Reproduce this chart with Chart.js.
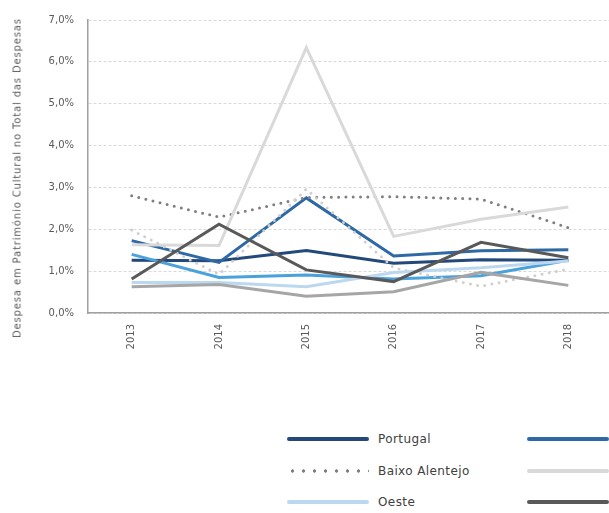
<!DOCTYPE html>
<html lang="pt">
<head>
<meta charset="utf-8">
<script src="https://cdn.jsdelivr.net/npm/chart.js@4/dist/chart.umd.min.js"></script>
<style>
  html, body { margin: 0; padding: 0; background: #fff; }
  body { width: 609px; height: 513px; overflow: hidden; position: relative; font-family: "DejaVu Sans", Verdana, sans-serif; }
  #wrap { position: absolute; left: 0; top: 0; width: 612px; height: 360px; }
  #ytitle {
    position: absolute; left: 17px; top: 178px;
    transform: translate(-50%, -50%) rotate(-90deg);
    white-space: nowrap; font-size: 10px; font-weight: 400; letter-spacing: 0.85px; color: #595959;
  }
  #legend { position: absolute; left: 287px; top: 425px; width: 760px; }
  .item { position: absolute; height: 16px; display: flex; align-items: center; white-space: nowrap; }
  .swatch { width: 82px; height: 4px; border-radius: 2px; margin-right: 9px; }
  .label { font-size: 12px; color: #404040; letter-spacing: 0.4px; }
</style>
</head>
<body>
<div id="wrap"><canvas id="c" width="612" height="360"></canvas></div>
<div id="ytitle">Despesa em Património Cultural no Total das Despesas</div>
<div id="legend"></div>
<script>
// Categories (years) and y-axis ticks
const years = ['2013', '2014', '2015', '2016', '2017', '2018'];
const yTicks = [0, 1, 2, 3, 4, 5, 6, 7];

// Share of cultural heritage expenditure in total expenditure (%)
const portugal        = [1.26, 1.25, 1.49, 1.19, 1.27, 1.26];
const alentejo        = [1.73, 1.21, 2.75, 1.36, 1.49, 1.51];
const alentejoLitoral = [1.40, 0.85, 0.91, 0.81, 0.89, 1.26];
const baixoAlentejo   = [2.80, 2.29, 2.76, 2.78, 2.72, 2.04];
const leziriaTejo     = [1.63, 1.61, 6.34, 1.83, 2.24, 2.53];
const altoAlentejo    = [1.98, 0.92, 2.96, 1.08, 0.64, 1.05];
const oeste           = [0.73, 0.73, 0.63, 0.97, 1.08, 1.24];
const medioTejo       = [0.81, 2.12, 1.03, 0.75, 1.69, 1.32];
const alentejoCentral = [0.63, 0.68, 0.40, 0.51, 0.97, 0.66];

const seriesNames = ['Portugal', 'Alentejo', 'Alentejo Litoral', 'Baixo Alentejo', 'Lezíria do Tejo',
                     'Alto Alentejo', 'Oeste', 'Médio Tejo', 'Alentejo Central'];
const seriesValues = [portugal, alentejo, alentejoLitoral, baixoAlentejo, leziriaTejo,
                      altoAlentejo, oeste, medioTejo, alentejoCentral];
const seriesColors = ['#22497a', '#2f69a5', '#4aa2dd', '#7f7f7f', '#d9d9d9',
                      '#cfcfcf', '#bcd8f0', '#595959', '#a6a6a6'];
const seriesDotted = [false, false, false, true, false, true, false, false, false];

const n = seriesNames.length;
const datasets = seriesNames.map((name, i) => ({
  label: name,
  data: seriesValues[i],
  borderColor: seriesColors[i],
  backgroundColor: seriesColors[i],
  borderWidth: 3,
  borderDash: seriesDotted[i] ? [0, 7.3] : [],
  borderCapStyle: seriesDotted[i] ? 'round' : 'butt',
  borderJoinStyle: 'miter',
  pointRadius: 0,
  pointHoverRadius: 0,
  tension: 0,
  fill: false,
  order: n - i          // later series are painted over earlier ones
}));

const tickFont = { family: '"DejaVu Sans", Verdana, sans-serif', size: 10 };

const chart = new Chart(document.getElementById('c'), {
  type: 'line',
  data: { labels: years, datasets },
  options: {
    responsive: false,
    devicePixelRatio: 1,
    animation: false,
    layout: { padding: { top: 14, left: 0, right: 0, bottom: 0 } },
    plugins: { legend: { display: false }, tooltip: { enabled: false } },
    scales: {
      x: {
        type: 'category',
        offset: true,
        grid: { display: false, drawTicks: false },
        border: { display: true, color: '#a0a0a0', width: 1.5 },
        ticks: {
          color: '#595959', font: tickFont, padding: 11,
          minRotation: 90, maxRotation: 90, autoSkip: false
        },
        afterFit: s => { s.height = 47; }
      },
      y: {
        min: 0, max: 7,
        afterBuildTicks: s => { s.ticks = yTicks.map(v => ({ value: v })); },
        grid: { color: '#d9d9d9', lineWidth: 1, drawTicks: false },
        border: { display: true, color: '#a0a0a0', width: 1.5, dash: [3, 2] },
        ticks: {
          color: '#595959', font: tickFont, padding: 14,
          callback: v => v.toFixed(1).replace('.', ',') + '%'
        },
        afterFit: s => { s.width = 88; }
      }
    }
  }
});

// Legend built from the chart's datasets, three items per row
const legend = document.getElementById('legend');
chart.data.datasets.forEach((ds, i) => {
  const row = Math.floor(i / 3), col = i % 3;
  const item = document.createElement('div');
  item.className = 'item';
  item.style.left = (col * 240) + 'px';
  item.style.top = (row * 31.5 + 6) + 'px';
  const sw = document.createElement('div');
  sw.className = 'swatch';
  if (seriesDotted[i]) {
    sw.style.background = 'radial-gradient(circle, ' + ds.borderColor + ' 1.4px, transparent 1.9px) 0 0 / 11px 4px repeat-x';
  } else {
    sw.style.background = ds.borderColor;
  }
  const lb = document.createElement('span');
  lb.className = 'label';
  lb.textContent = ds.label;
  item.appendChild(sw);
  item.appendChild(lb);
  legend.appendChild(item);
});
</script>
</body>
</html>
